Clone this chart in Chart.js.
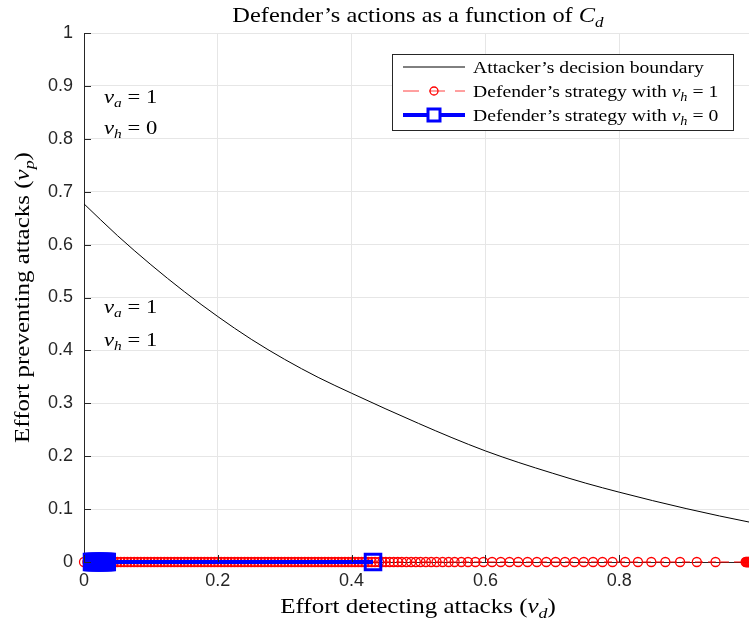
<!DOCTYPE html>
<html><head><meta charset="utf-8">
<script src="https://cdn.jsdelivr.net/npm/chart.js@4.4.1/dist/chart.umd.min.js"></script>
<style>
html,body{margin:0;padding:0;overflow:hidden;background:#fff;width:749px;height:627px}
#c{position:absolute;left:0;top:0;width:767px;height:627px}
</style>
</head><body><canvas id="c" width="767" height="627"></canvas>
<script>
// Attacker's decision boundary (v_d, v_p)
const boundaryVd = [0, 0.05, 0.1, 0.15, 0.2, 0.25, 0.3, 0.35, 0.4, 0.45, 0.5, 0.55, 0.6, 0.65, 0.7, 0.75, 0.8, 0.85, 0.9, 0.95, 1.0];
const boundaryVp = [0.677, 0.617, 0.562, 0.511, 0.464, 0.421, 0.383, 0.349, 0.319, 0.290, 0.262, 0.235, 0.210, 0.188, 0.168, 0.149, 0.132, 0.116, 0.101, 0.087, 0.074];
// Defender's strategy with v_h = 1 : v_d values (all at v_p = 0)
const redVd = [0, 0.005, 0.01, 0.015, 0.02, 0.025, 0.03, 0.035, 0.04, 0.045, 0.05, 0.055, 0.06, 0.065, 0.07, 0.075, 0.08, 0.085, 0.09, 0.095,
  0.1, 0.105, 0.11, 0.115, 0.12, 0.125, 0.13, 0.135, 0.14, 0.145, 0.15, 0.155, 0.16, 0.165, 0.17, 0.175, 0.18, 0.185, 0.19, 0.195,
  0.2, 0.205, 0.21, 0.215, 0.22, 0.225, 0.23, 0.235, 0.24, 0.245, 0.25, 0.255, 0.26, 0.265, 0.27, 0.275, 0.28, 0.285, 0.29, 0.295,
  0.3, 0.305, 0.31, 0.315, 0.32, 0.325, 0.33, 0.335, 0.34, 0.345, 0.35, 0.355, 0.36, 0.365, 0.37, 0.375, 0.38, 0.385, 0.39, 0.395,
  0.4, 0.405, 0.41, 0.415, 0.42, 0.425, 0.43, 0.435, 0.441, 0.446, 0.451, 0.457, 0.463, 0.469, 0.475, 0.482, 0.489, 0.496, 0.503,
  0.511, 0.519, 0.527, 0.536, 0.545, 0.554, 0.564, 0.574, 0.585, 0.597, 0.610, 0.623, 0.636, 0.649, 0.663, 0.677, 0.691, 0.705,
  0.719, 0.733, 0.747, 0.761, 0.775, 0.790, 0.809, 0.828, 0.848, 0.869, 0.891, 0.916, 0.944,
  0.989, 0.990, 0.991, 0.992, 0.993, 0.994, 0.995, 0.996, 0.997, 0.998, 0.999, 1.0];
const redVp = redVd.map(() => 0); // every red marker was read at v_p = 0
// Defender's strategy with v_h = 0
const blueVd = [0.012, 0.014, 0.016, 0.018, 0.020, 0.022, 0.024, 0.026, 0.028, 0.030, 0.032, 0.034, 0.432];
const blueVp = blueVd.map(() => 0); // every blue marker was read at v_p = 0
const xTicks = [0, 0.2, 0.4, 0.6, 0.8, 1];
const yTicks = [0, 0.1, 0.2, 0.3, 0.4, 0.5, 0.6, 0.7, 0.8, 0.9, 1];
const legendLabels = [
  [["Attacker\u2019s decision boundary", "n"]],
  [["Defender\u2019s strategy with ", "n"], ["v", "i"], ["h", "s"], [" = 1", "n"]],
  [["Defender\u2019s strategy with ", "n"], ["v", "i"], ["h", "s"], [" = 0", "n"]]
];
const titleParts = [["Defender\u2019s actions as a function of ", "n"], ["C", "i"], ["d", "s"]];
const xTitleParts = [["Effort detecting attacks (", "n"], ["v", "i"], ["d", "s"], [")", "n"]];
const yTitleParts = [["Effort preventing attacks (", "n"], ["v", "i"], ["p", "s"], [")", "n"]];
const annotations = [
  {x: 0.03, y: 0.879, parts: [["v", "i"], ["a", "s"], [" = 1", "n"]]},
  {x: 0.03, y: 0.820, parts: [["v", "i"], ["h", "s"], [" = 0", "n"]]},
  {x: 0.03, y: 0.482, parts: [["v", "i"], ["a", "s"], [" = 1", "n"]]},
  {x: 0.03, y: 0.420, parts: [["v", "i"], ["h", "s"], [" = 1", "n"]]}
];

const SERIF = '"Liberation Serif", "DejaVu Serif", serif';
const AX = '#262626';

function fontFor(kind, size) {
  if (kind === 'i') return `italic ${size}px ${SERIF}`;
  if (kind === 's') return `italic ${Math.round(size * 0.7)}px ${SERIF}`;
  return `${size}px ${SERIF}`;
}
function richWidth(ctx, parts, size) {
  let w = 0;
  for (const [t, k] of parts) { ctx.font = fontFor(k, size); w += ctx.measureText(t).width; }
  return w;
}
function drawRich(ctx, parts, x, y, size, align, sx) {
  ctx.save();
  ctx.textBaseline = 'alphabetic';
  ctx.textAlign = 'left';
  ctx.fillStyle = '#000';
  ctx.translate(x, y);
  ctx.scale(sx || 1.19, 1);
  let cx = 0;
  if (align === 'center') cx = -richWidth(ctx, parts, size) / 2;
  for (const [t, k] of parts) {
    ctx.font = fontFor(k, size);
    const dy = k === 's' ? size * 0.22 : 0;
    ctx.fillText(t, cx, dy);
    cx += ctx.measureText(t).width;
  }
  ctx.restore();
}

const decor = {
  id: 'decor',
  afterDatasetsDraw(chart) {
    const ctx = chart.ctx, xs = chart.scales.x, ys = chart.scales.y, a = chart.chartArea;
    ctx.save();
    ctx.strokeStyle = AX; ctx.lineWidth = 1;
    ctx.beginPath();
    for (const v of yTicks) { const py = Math.round(ys.getPixelForValue(v)) + 0.5; ctx.moveTo(a.left, py); ctx.lineTo(a.left + 7, py); }
    for (const v of xTicks) { const px = Math.round(xs.getPixelForValue(v)) + 0.5; ctx.moveTo(px, a.bottom); ctx.lineTo(px, a.bottom - 7); }
    ctx.stroke();
    ctx.restore();
    for (const an of annotations) {
      drawRich(ctx, an.parts, xs.getPixelForValue(an.x), ys.getPixelForValue(an.y) + 6, 19, 'left');
    }
  },
  afterDraw(chart) {
    const ctx = chart.ctx;
    const cxAxes = 418;
    drawRich(ctx, titleParts, cxAxes, 22, 21.5, 'center', 1.135);
    drawRich(ctx, xTitleParts, cxAxes, 613, 21, 'center');
    ctx.save();
    ctx.translate(29, 297.5);
    ctx.rotate(-Math.PI / 2);
    drawRich(ctx, yTitleParts, 0, 0, 21, 'center');
    ctx.restore();
    // legend
    const bx = 392.5, by = 54.5, bw = 341, bh = 76;
    ctx.save();
    ctx.fillStyle = '#fff'; ctx.fillRect(bx, by, bw, bh);
    ctx.strokeStyle = AX; ctx.lineWidth = 1; ctx.strokeRect(bx, by, bw, bh);
    const rows = [67, 91, 115];
    ctx.strokeStyle = '#000'; ctx.lineWidth = 1;
    ctx.beginPath(); ctx.moveTo(403, rows[0]); ctx.lineTo(465, rows[0]); ctx.stroke();
    ctx.strokeStyle = 'rgba(255,0,0,0.75)'; ctx.lineWidth = 1; ctx.setLineDash([16, 10]);
    ctx.beginPath(); ctx.moveTo(403, rows[1]); ctx.lineTo(465, rows[1]); ctx.stroke();
    ctx.setLineDash([]);
    ctx.strokeStyle = '#ff0000'; ctx.lineWidth = 1.3;
    ctx.beginPath(); ctx.arc(434, rows[1], 4, 0, Math.PI * 2); ctx.stroke();
    ctx.strokeStyle = '#0000ff'; ctx.lineWidth = 4;
    ctx.beginPath(); ctx.moveTo(403, rows[2]); ctx.lineTo(465, rows[2]); ctx.stroke();
    ctx.lineWidth = 3;
    ctx.fillStyle = '#fff';
    ctx.fillRect(428, rows[2] - 6, 12, 12);
    ctx.strokeRect(428, rows[2] - 6, 12, 12);
    ctx.restore();
    legendLabels.forEach((p, i) => drawRich(ctx, p, 473, rows[i] + 6, 16.5, 'left'));
  }
};

const fmt = v => String(Math.round(v * 10) / 10);

new Chart(document.getElementById('c'), {
  type: 'scatter',
  data: {
    datasets: [
      {
        label: 'Attacker\u2019s decision boundary',
        data: boundaryVd.map((x, i) => ({x, y: boundaryVp[i]})),
        showLine: true, borderColor: '#000', borderWidth: 1, pointRadius: 0,
        cubicInterpolationMode: 'monotone', order: 3, clip: false
      },
      {
        label: 'Defender\u2019s strategy with v_h = 1',
        data: redVd.map((x, i) => ({x, y: redVp[i]})),
        showLine: true, borderColor: '#ff0000', borderWidth: 1, borderDash: [8, 5],
        pointStyle: 'circle', pointRadius: 4.5, pointBorderWidth: 1.3,
        pointBorderColor: '#ff0000', pointBackgroundColor: 'rgba(0,0,0,0)',
        order: 2, clip: false
      },
      {
        label: 'Defender\u2019s strategy with v_h = 0',
        data: blueVd.map((x, i) => ({x, y: blueVp[i]})),
        showLine: true, borderColor: '#0000ff', borderWidth: 4,
        pointStyle: 'rect', pointRadius: 11, pointBorderWidth: 3,
        pointBorderColor: '#0000ff', pointBackgroundColor: 'rgba(0,0,0,0)',
        order: 1, clip: false
      }
    ]
  },
  options: {
    responsive: false, maintainAspectRatio: false, animation: false, devicePixelRatio: 1,
    layout: {padding: {left: 0, top: 33, right: 0, bottom: 0}},
    plugins: {legend: {display: false}, tooltip: {enabled: false}, title: {display: false}},
    scales: {
      x: {
        type: 'linear', min: 0, max: 1,
        afterBuildTicks: s => { s.ticks = xTicks.map(v => ({value: v})); },
        afterFit: s => { s.height = 65; },
        grid: {color: '#e6e6e6', drawTicks: false},
        border: {color: AX, width: 1},
        ticks: {padding: 8, color: '#262626', callback: fmt, font: {family: '"Liberation Sans", Arial, sans-serif', size: 18}, maxRotation: 0}
      },
      y: {
        type: 'linear', min: 0, max: 1,
        afterBuildTicks: s => { s.ticks = yTicks.map(v => ({value: v})); },
        afterFit: s => { s.width = 84; },
        grid: {color: '#e6e6e6', drawTicks: false},
        border: {color: AX, width: 1},
        ticks: {padding: 11, color: '#262626', callback: fmt, font: {family: '"Liberation Sans", Arial, sans-serif', size: 18}}
      }
    }
  },
  plugins: [decor]
});
</script>
</body></html>
